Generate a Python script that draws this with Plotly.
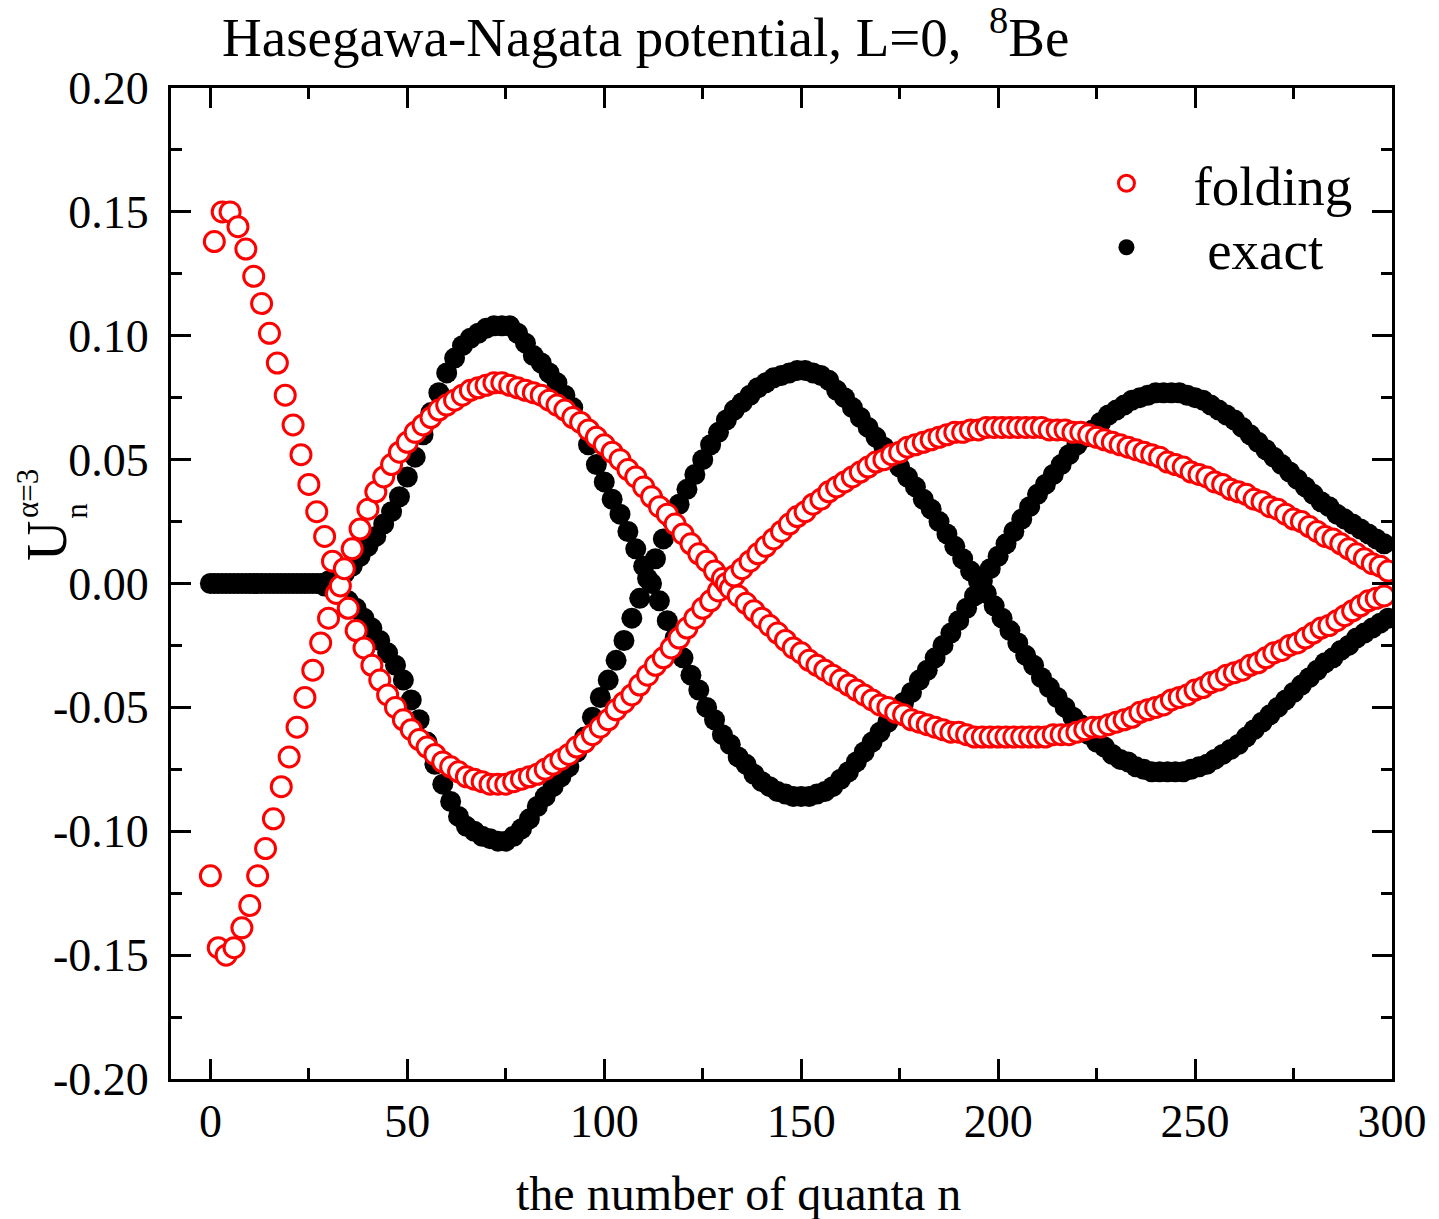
import plotly.graph_objects as go

# ---------------- data ----------------
# folding: values at even n (0,2,...,298) and odd n (1,3,...,299)
folding_even = [
    -0.118, -0.147, -0.150, -0.147, -0.139, -0.130, -0.118, -0.107, -0.095, -0.082,
    -0.070, -0.058, -0.046, -0.035, -0.024, -0.014, -0.004, 0.006, 0.014, 0.022,
    0.030, 0.037, 0.043, 0.048, 0.053, 0.057, 0.061, 0.064, 0.067, 0.070,
    0.072, 0.074, 0.076, 0.078, 0.079, 0.080, 0.081, 0.081, 0.080, 0.079,
    0.078, 0.077, 0.076, 0.074, 0.072, 0.070, 0.067, 0.065, 0.062, 0.059,
    0.056, 0.053, 0.050, 0.046, 0.043, 0.039, 0.035, 0.031, 0.028, 0.024,
    0.020, 0.016, 0.012, 0.009, 0.005, 0.002, -0.002, -0.005, -0.008, -0.011,
    -0.014, -0.017, -0.020, -0.023, -0.026, -0.028, -0.031, -0.033, -0.035, -0.037,
    -0.039, -0.041, -0.043, -0.045, -0.047, -0.049, -0.050, -0.052, -0.053, -0.055,
    -0.056, -0.057, -0.058, -0.059, -0.060, -0.060, -0.061, -0.062, -0.062, -0.062,
    -0.062, -0.062, -0.062, -0.062, -0.062, -0.062, -0.062, -0.061, -0.061, -0.061,
    -0.060, -0.059, -0.058, -0.058, -0.057, -0.056, -0.055, -0.054, -0.052, -0.051,
    -0.050, -0.049, -0.047, -0.046, -0.045, -0.043, -0.042, -0.040, -0.039, -0.037,
    -0.036, -0.035, -0.033, -0.032, -0.030, -0.028, -0.027, -0.025, -0.024, -0.022,
    -0.020, -0.018, -0.017, -0.015, -0.013, -0.011, -0.009, -0.007, -0.006, -0.005,
]
folding_odd = [
    0.138, 0.150, 0.150, 0.144, 0.135, 0.124, 0.113, 0.101, 0.089, 0.076,
    0.064, 0.052, 0.040, 0.029, 0.019, 0.009, -0.001, -0.010, -0.019, -0.026,
    -0.033, -0.039, -0.045, -0.050, -0.055, -0.059, -0.063, -0.066, -0.069, -0.072,
    -0.074, -0.076, -0.078, -0.079, -0.080, -0.081, -0.081, -0.081, -0.080, -0.079,
    -0.078, -0.077, -0.075, -0.073, -0.071, -0.069, -0.066, -0.064, -0.061, -0.058,
    -0.055, -0.051, -0.048, -0.045, -0.041, -0.037, -0.033, -0.030, -0.026, -0.022,
    -0.018, -0.014, -0.010, -0.007, -0.003, 0.000, 0.003, 0.006, 0.009, 0.012,
    0.015, 0.018, 0.021, 0.024, 0.027, 0.029, 0.032, 0.034, 0.037, 0.039,
    0.041, 0.043, 0.045, 0.047, 0.049, 0.050, 0.052, 0.053, 0.055, 0.056,
    0.057, 0.058, 0.059, 0.060, 0.061, 0.061, 0.062, 0.062, 0.063, 0.063,
    0.063, 0.063, 0.063, 0.063, 0.063, 0.063, 0.062, 0.062, 0.062, 0.061,
    0.061, 0.060, 0.059, 0.058, 0.057, 0.056, 0.055, 0.054, 0.053, 0.052,
    0.051, 0.049, 0.048, 0.047, 0.045, 0.044, 0.043, 0.041, 0.040, 0.038,
    0.037, 0.036, 0.034, 0.033, 0.031, 0.030, 0.028, 0.026, 0.025, 0.023,
    0.021, 0.019, 0.018, 0.016, 0.014, 0.012, 0.010, 0.008, 0.007, 0.005,
]
# exact: values at even n and odd n
exact_even = [
    0.000, 0.000, 0.000, 0.000, 0.000, 0.000, 0.000, 0.000, 0.000, 0.000,
    0.000, 0.000, 0.000, 0.000, 0.000, 0.001, 0.002, 0.004, 0.007, 0.011,
    0.015, 0.019, 0.024, 0.029, 0.035, 0.043, 0.051, 0.060, 0.069, 0.077,
    0.085, 0.091, 0.096, 0.099, 0.101, 0.103, 0.104, 0.104, 0.104, 0.101,
    0.097, 0.092, 0.089, 0.085, 0.081, 0.076, 0.071, 0.065, 0.056, 0.048,
    0.041, 0.034, 0.028, 0.021, 0.014, 0.007, 0.000, -0.007, -0.015, -0.022,
    -0.030, -0.037, -0.043, -0.050, -0.055, -0.061, -0.065, -0.070, -0.073, -0.077,
    -0.080, -0.082, -0.084, -0.085, -0.086, -0.086, -0.086, -0.085, -0.084, -0.082,
    -0.079, -0.076, -0.072, -0.068, -0.064, -0.060, -0.056, -0.052, -0.048, -0.044,
    -0.039, -0.035, -0.030, -0.025, -0.020, -0.015, -0.010, -0.005, 0.001, 0.006,
    0.011, 0.016, 0.021, 0.026, 0.031, 0.036, 0.040, 0.044, 0.048, 0.052,
    0.056, 0.059, 0.062, 0.065, 0.068, 0.070, 0.072, 0.074, 0.075, 0.076,
    0.077, 0.077, 0.077, 0.077, 0.076, 0.075, 0.074, 0.072, 0.070, 0.068,
    0.066, 0.063, 0.060, 0.057, 0.054, 0.051, 0.048, 0.045, 0.042, 0.039,
    0.036, 0.033, 0.031, 0.028, 0.026, 0.024, 0.022, 0.020, 0.018, 0.016,
]
exact_odd = [
    0.000, 0.000, 0.000, 0.000, 0.000, 0.000, 0.000, 0.000, 0.000, 0.000,
    0.000, 0.000, 0.000, 0.000, -0.001, -0.002, -0.004, -0.007, -0.010, -0.014,
    -0.018, -0.023, -0.028, -0.033, -0.039, -0.047, -0.055, -0.064, -0.073, -0.081,
    -0.088, -0.094, -0.098, -0.100, -0.102, -0.103, -0.104, -0.104, -0.102, -0.099,
    -0.095, -0.090, -0.086, -0.082, -0.078, -0.074, -0.068, -0.062, -0.054, -0.046,
    -0.039, -0.031, -0.023, -0.014, -0.006, 0.002, 0.010, 0.018, 0.026, 0.032,
    0.038, 0.044, 0.050, 0.056, 0.061, 0.066, 0.070, 0.073, 0.076, 0.079,
    0.081, 0.083, 0.084, 0.085, 0.086, 0.086, 0.085, 0.084, 0.082, 0.078,
    0.075, 0.071, 0.067, 0.063, 0.059, 0.055, 0.051, 0.047, 0.043, 0.039,
    0.034, 0.030, 0.025, 0.020, 0.015, 0.010, 0.005, 0.001, -0.004, -0.009,
    -0.014, -0.019, -0.024, -0.029, -0.033, -0.038, -0.042, -0.046, -0.050, -0.054,
    -0.057, -0.061, -0.064, -0.066, -0.069, -0.071, -0.072, -0.074, -0.075, -0.076,
    -0.076, -0.076, -0.076, -0.076, -0.075, -0.074, -0.073, -0.071, -0.069, -0.067,
    -0.065, -0.062, -0.059, -0.056, -0.053, -0.050, -0.047, -0.044, -0.041, -0.038,
    -0.035, -0.032, -0.030, -0.027, -0.025, -0.022, -0.020, -0.018, -0.016, -0.014,
]

x_tickvals = [0, 50, 100, 150, 200, 250, 300]
x_ticktext = ["0", "50", "100", "150", "200", "250", "300"]
y_tickvals = [-0.20, -0.15, -0.10, -0.05, 0.00, 0.05, 0.10, 0.15, 0.20]
y_ticktext = ["-0.20", "-0.15", "-0.10", "-0.05", "0.00", "0.05", "0.10", "0.15", "0.20"]


def interleave(even_vals, odd_vals):
    xs, ys = [], []
    for i in range(len(even_vals)):
        xs.append(2 * i)
        ys.append(even_vals[i])
        xs.append(2 * i + 1)
        ys.append(odd_vals[i])
    return xs, ys


fx, fy = interleave(folding_even, folding_odd)
ex, ey = interleave(exact_even, exact_odd)

# ---------------- layout geometry ----------------
W, H = 1439, 1219
L, R, T, B = 171, 38, 88, 140
PW, PH = W - L - R, H - T - B


def px(xpix):
    return (xpix - L) / PW


def py(ypix):
    return (H - B - ypix) / PH


FONT = "Liberation Serif, Times New Roman, serif"

fig = go.Figure()
fig.add_trace(go.Scatter(
    x=ex, y=ey, mode="markers", name="\u00a0exact", legend="legend2",
    marker=dict(symbol="circle", size=21, color="black", line=dict(width=0)),
))
fig.add_trace(go.Scatter(
    x=fx, y=fy, mode="markers", name="folding", legend="legend",
    marker=dict(symbol="circle", size=20, color="white", line=dict(color="#ff0000", width=3)),
))

axis_common = dict(
    showline=True, linecolor="black", linewidth=3, mirror="ticks",
    ticks="inside", ticklen=20, tickwidth=3, tickcolor="black",
    showgrid=False, zeroline=False,
    tickfont=dict(family=FONT, size=46, color="black"),
)

fig.update_xaxes(
    range=[-10, 300], tickmode="array", tickvals=x_tickvals, ticktext=x_ticktext,
    minor=dict(ticks="inside", ticklen=11, tickwidth=3, tickcolor="black", dtick=25, tick0=0),
    ticklabelstandoff=0,
    **axis_common,
)
fig.update_yaxes(
    range=[-0.20, 0.20], tickmode="array", tickvals=y_tickvals, ticktext=y_ticktext,
    minor=dict(ticks="inside", ticklen=11, tickwidth=3, tickcolor="black", dtick=0.025, tick0=0),
    ticklabelstandoff=10,
    **axis_common,
)

annotations = [
    dict(text="Hasegawa-Nagata potential, L=0,\u00a0\u00a0<sup>8</sup>Be",
         x=px(649), y=py(33), font=dict(family=FONT, size=55, color="black")),
    dict(text="the number of quanta n",
         x=px(743), y=py(1193), font=dict(family=FONT, size=48, color="black")),
    dict(text="U", textangle=-90,
         x=px(46), y=py(541), font=dict(family=FONT, size=56, color="black")),
    dict(text="n", textangle=-90,
         x=px(75), y=py(511), font=dict(family=FONT, size=31, color="black")),
    dict(text="\u03b1=3", textangle=-90,
         x=px(26), y=py(494), font=dict(family=FONT, size=31, color="black")),
]
for a in annotations:
    a.update(xref="paper", yref="paper", showarrow=False, xanchor="center", yanchor="middle")

legend_common = dict(
    xanchor="left", yanchor="top",
    font=dict(family=FONT, size=55, color="black"),
    bgcolor="rgba(0,0,0,0)", borderwidth=0, itemwidth=124,
)

fig.update_layout(
    width=W, height=H,
    margin=dict(l=L, r=R, t=T, b=B, pad=0),
    paper_bgcolor="white", plot_bgcolor="white",
    font=dict(family=FONT, color="black"),
    annotations=annotations,
    showlegend=True,
    legend=dict(x=px(1066), y=py(141), **legend_common),
    legend2=dict(x=px(1066), y=py(205), **legend_common),
)

fig.write_html("out.html")
